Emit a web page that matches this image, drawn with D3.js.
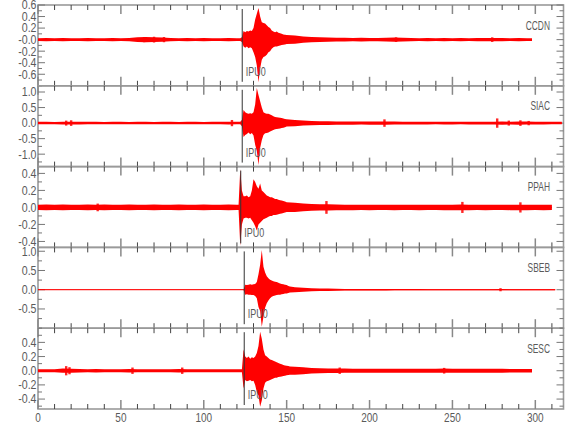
<!DOCTYPE html>
<html>
<head>
<meta charset="utf-8">
<script src="https://cdn.jsdelivr.net/npm/d3@7"></script>
<style>
    body { margin: 0; background: #fff; }
    text { font-family: "Liberation Sans", Arial, sans-serif; fill: #5a5a5a; }
</style>
</head>
<body>
<div id="chart"></div>
<script>
// Stations, top to bottom
const stations = ['CCDN', 'SIAC', 'PPAH', 'SBEB', 'SESC'];

// Y ranges and tick labels per panel
const yDomains = [[-0.8, 0.6], [-1.4, 1.2], [-0.47, 0.48], [-1.0, 1.1], [-0.54, 0.6]];
const yMinorStep = [0.1, 0.25, 0.1, 0.25, 0.1];
const yTickValues = [
    [0.6, 0.4, 0.2, 0, -0.2, -0.4, -0.6],
    [1.0, 0.5, 0, -0.5, -1.0],
    [0.4, 0.2, 0, -0.2, -0.4],
    [1.0, 0.5, 0, -0.5],
    [0.4, 0.2, 0, -0.2, -0.4]
];
const yTickLabels = [
    ['0.6', '0.4', '0.2', '-0.0', '-0.2', '-0.4', '-0.6'],
    ['1.0', '0.5', '0.0', '-0.5', '-1.0'],
    ['0.4', '0.2', '0.0', '-0.2', '-0.4'],
    ['1.0', '0.5', '0.0', '-0.5'],
    ['0.4', '0.2', '0.0', '-0.2', '-0.4']
];

// X axis
const xTicks = [0, 50, 100, 150, 200, 250, 300];
const xMax = 317;

// Picks (seconds) and record lengths
const pickTimes = [123.2, 123.2, 122.3, 124.4, 124.4];
const pickLabel = 'IPU0';
const traceEnd = [298, 316, 310, 312, 298];

// Background / coda amplitude, one value every 5 s (null = covered by burst arrays)
const noiseStep = 5;
const noiseCCDN = [.024, .027, .024, .027, .024, .024, .027, .024, .024, .027, .024, .027,
    .04, .045, .04, .036, .028, .024, .027, .024, .027, .024, .024, .027, .024,
    null, null, null, null, null, null,
    .07, .055, .047, .042, .038, .034, .033, .03, .032, .03, .03, .032, .035, .032, .03,
    .025, .027, .024, .027, .024, .027, .024, .027, .03, .03, .027, .024, .027, .024];
const noiseSIAC = [.04, .04, .038, .045, .045, .042, .04, .04, .038, .04, .04, .038, .04,
    .04, .038, .04, .04, .038, .04, .04, .038, .04, .04, .045, .04,
    null, null, null, null, null, null,
    .1, .08, .07, .062, .06, .055, .05, .05, .048, .05, .05, .05, .048, .045, .042, .042,
    .042, .04, .042, .042, .04, .042, .042, .045, .045, .05, .045, .05, .048, .045, .042, .04, .04];
const noisePPAH = [.03, .033, .03, .033, .03, .03, .033, .03, .033, .03, .03, .033, .03,
    .03, .033, .03, .03, .033, .03, .03, .033, .03, .03, .033, .03,
    null, null, null, null, null, null,
    .055, .045, .04, .036, .036, .034, .032, .032, .03, .032, .03, .03, .032, .03, .03, .032,
    .03, .03, .032, .032, .033, .032, .03, .032, .03, .03, .032, .032, .032, .03, .032, .03];
const noiseSBEB = [.007, .007, .008, .007, .007, .008, .007, .007, .008, .007, .007, .008, .007,
    .007, .008, .007, .007, .008, .007, .007, .008, .007, .007, .008, .007,
    null, null, null, null, null, null,
    .065, .05, .04, .035, .03, .026, .022, .02, .018, .018, .017, .017, .016, .016, .016, .016,
    .015, .015, .015, .014, .014, .014, .014, .014, .015, .016, .014, .014, .013, .013, .012, .012];
const noiseSESC = [.022, .022, .022, .03, .028, .025, .022, .024, .022, .022, .022, .024, .022,
    .022, .022, .022, .022, .024, .022, .022, .022, .022, .022, .022, .022,
    null, null, null, null, null, null,
    .055, .048, .04, .035, .032, .032, .03, .027, .027, .027, .027, .027, .027, .027, .027,
    .027, .027, .027, .03, .027, .027, .027, .027, .027, .027, .027, .025, .025, .025];

// Short isolated bursts in the background: [time s, amplitude]
const spikesCCDN = [[64, .045], [70, .05], [76, .045], [216, .04], [274, .04]];
const spikesSIAC = [[17, .08], [20, .09], [117, .1], [209, .12], [277, .15], [284, .08], [291, .09], [296, .07]];
const spikesPPAH = [[36, .045], [174, .075], [256, .065], [291, .06]];
const spikesSBEB = [[279, .04]];
const spikesSESC = [[17, .065], [19, .05], [57, .045], [87, .045], [182, .045], [245, .04]];

// Event part, one value per second from burstStart (upper / lower extent)
const burstStart = [121, 121, 121, 123, 123];
const upCCDN = [.025, .025, .04, .15, .13, .15, .14, .16, .15, .2, .35, .45, .55, .4, .3,
    .29, .28, .25, .22, .2, .16, .14, .13, .14, .12, .11, .1, .09, .085, .08];
const downCCDN = [.025, .025, .04, .12, .14, .12, .15, .13, .15, .22, .3, .45, .74, .5, .35,
    .3, .29, .26, .22, .2, .16, .13, .12, .12, .11, .1, .095, .09, .085, .075];
const upSIAC = [.04, .04, .1, .42, .35, .32, .3, .32, .3, .35, .6, 1.13, .9, .7, .5,
    .35, .32, .3, .3, .28, .25, .22, .2, .19, .18, .17, .16, .15, .13, .12];
const downSIAC = [.04, .04, .1, .45, .38, .35, .3, .36, .32, .4, .7, .9, 1.35, .8, .55,
    .38, .33, .32, .3, .27, .25, .22, .2, .19, .18, .17, .16, .15, .13, .11];
const upPPAH = [.03, .45, .2, .13, .13, .14, .12, .13, .2, .33, .3, .25, .22, .28, .2,
    .18, .16, .14, .13, .12, .12, .11, .1, .1, .09, .085, .08, .075, .07, .06];
const downPPAH = [.03, .45, .2, .13, .12, .12, .13, .12, .15, .18, .22, .27, .2, .18, .16,
    .14, .13, .12, .11, .1, .1, .09, .09, .085, .08, .075, .07, .065, .06, .055];
const upSBEB = [.008, .008, .13, .12, .13, .14, .13, .14, .15, .2, .4, .65, 1.03, .6, .45,
    .35, .3, .26, .24, .22, .21, .2, .18, .16, .15, .14, .13, .12, .1, .085];
const downSBEB = [.008, .008, .13, .12, .13, .13, .14, .14, .16, .22, .45, .55, .96, .7, .47,
    .35, .28, .22, .18, .16, .15, .14, .13, .13, .12, .11, .1, .095, .085, .075];
const upSESC = [.022, .3, .2, .18, .2, .17, .19, .18, .2, .25, .35, .55, .45, .3, .22,
    .2, .18, .16, .15, .14, .13, .12, .11, .1, .09, .08, .075, .07, .065, .06];
const downSESC = [.022, .25, .13, .15, .14, .13, .15, .14, .2, .3, .35, .51, .42, .25, .17,
    .15, .14, .13, .12, .11, .1, .1, .09, .085, .08, .075, .07, .065, .06, .055];

const noiseSeries = [noiseCCDN, noiseSIAC, noisePPAH, noiseSBEB, noiseSESC];
const spikeSeries = [spikesCCDN, spikesSIAC, spikesPPAH, spikesSBEB, spikesSESC];
const upSeries = [upCCDN, upSIAC, upPPAH, upSBEB, upSESC];
const downSeries = [downCCDN, downSIAC, downPPAH, downSBEB, downSESC];

// Layout
const width = 580, height = 440;
const plotLeft = 38, plotRight = 563.5, plotTop = 5, panelH = 80.8;

const svg = d3.select('#chart')
    .append('svg')
    .attr('width', width)
    .attr('height', height);

const x = d3.scaleLinear().domain([0, xMax]).range([plotLeft, plotRight]);

// narrow text, the original uses a condensed stroke font
function label(parent, tx, ty, str, size, sx, anchor) {
    return parent.append('text')
        .attr('transform', `translate(${tx},${ty}) scale(${sx},1)`)
        .attr('text-anchor', anchor)
        .style('font-size', size + 'px')
        .text(str);
}

// merge background and event arrays into one envelope
function buildTrace(i) {
    const b0 = burstStart[i];
    const up = upSeries[i], down = downSeries[i];
    const b1 = b0 + up.length - 1;
    const pts = [];
    let last = 0;
    noiseSeries[i].forEach((a, k) => {
        const t = k * noiseStep;
        if (a === null || t > traceEnd[i]) return;
        last = a;
        if (t < b0 || t > b1) pts.push({ t: t, hi: a, lo: a });
    });
    up.forEach((u, k) => pts.push({ t: b0 + k, hi: u, lo: down[k] }));
    pts.push({ t: traceEnd[i], hi: last, lo: last });
    pts.sort((a, b) => a.t - b.t);
    return pts;
}

const minorX = d3.range(0, xMax, 10);

stations.forEach((name, i) => {
    const top = plotTop + i * panelH;
    const bottom = top + panelH;
    const y = d3.scaleLinear().domain(yDomains[i]).range([bottom, top]);
    const g = svg.append('g').attr('class', 'panel');

    // frame
    g.append('rect')
        .attr('x', plotLeft)
        .attr('y', top)
        .attr('width', plotRight - plotLeft)
        .attr('height', panelH)
        .attr('fill', 'none')
        .attr('stroke', '#9a9a9a')
        .attr('stroke-width', 1.6);

    // x ticks, top and bottom
    minorX.forEach(t => {
        const major = t % 50 === 0;
        const len = major ? 9 : 5;
        [[top, top + len], [bottom, bottom - len]].forEach(([a, b]) => {
            g.append('line')
                .attr('x1', x(t)).attr('x2', x(t))
                .attr('y1', a).attr('y2', b)
                .attr('stroke', major ? '#888' : '#444')
                .attr('stroke-width', major ? 1.5 : 1);
        });
    });

    // y ticks, left and right
    const d = yDomains[i], step = yMinorStep[i];
    const yMinor = d3.range(Math.ceil(d[0] / step - 1e-9), Math.floor(d[1] / step + 1e-9) + 1)
        .map(k => k * step);
    yMinor.forEach(v => {
        const major = yTickValues[i].some(m => Math.abs(m - v) < 1e-6);
        const len = major ? 7 : 4;
        g.append('line')
            .attr('x1', plotLeft).attr('x2', plotLeft + len)
            .attr('y1', y(v)).attr('y2', y(v))
            .attr('stroke', '#777');
        g.append('line')
            .attr('x1', plotRight).attr('x2', plotRight - len)
            .attr('y1', y(v)).attr('y2', y(v))
            .attr('stroke', '#777');
    });

    // y labels
    yTickValues[i].forEach((v, k) => {
        label(g, plotLeft - 1.5, y(v) + 4.4, yTickLabels[i][k], 12.5, 0.85, 'end');
    });

    // waveform envelope
    const pts = buildTrace(i);
    const area = d3.area()
        .x(p => x(p.t))
        .y0(p => y(-p.lo))
        .y1(p => y(p.hi));
    g.append('path')
        .datum(pts)
        .attr('d', area)
        .attr('fill', '#ff0000');
    g.append('line')
        .attr('x1', x(0)).attr('x2', x(traceEnd[i]))
        .attr('y1', y(0)).attr('y2', y(0))
        .attr('stroke', '#ff0000')
        .attr('stroke-width', 1);

    // isolated bursts
    g.selectAll('.spike')
        .data(spikeSeries[i])
        .enter()
        .append('rect')
        .attr('class', 'spike')
        .attr('x', s => x(s[0]) - 1.2)
        .attr('width', 2.4)
        .attr('y', s => y(s[1]))
        .attr('height', s => y(-s[1]) - y(s[1]))
        .attr('fill', '#ff0000')
        .attr('opacity', 0.85);

    // pick marker
    const px = x(pickTimes[i]);
    g.append('line')
        .attr('x1', px).attr('x2', px)
        .attr('y1', top + 4).attr('y2', bottom - 4)
        .attr('stroke', '#333')
        .attr('stroke-width', 1);
    label(g, px + 3.5, bottom - 10, pickLabel, 12, 0.75, 'start');

    // station name
    label(g, 550, top + 24.5, name, 12, 0.7, 'end');
});

// x tick labels below the last panel
const axisY = plotTop + stations.length * panelH;
xTicks.forEach(t => {
    label(svg, x(t), axisY + 13, String(t), 12.5, 0.8, 'middle');
});
</script>
</body>
</html>
